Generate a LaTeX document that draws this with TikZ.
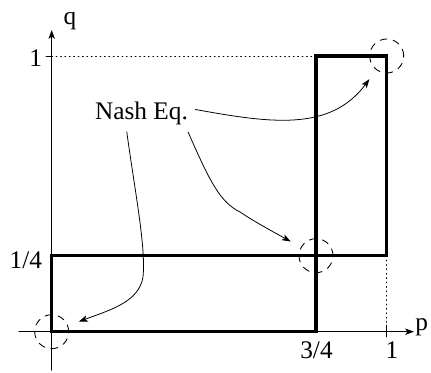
\documentclass[tikz,border=0pt]{standalone}
\usepackage{fontspec}
\setmainfont{Liberation Serif}
\usetikzlibrary{arrows.meta}
\tikzset{
  nebox/.style={circle, draw, dash pattern=on 4pt off 3.5pt, line width=0.5pt,
    minimum size=0.68cm, inner sep=0pt, outer sep=0.24cm},
  nearrow/.style={line width=0.45pt, -{Stealth[length=5pt,width=3.6pt,inset=1.2pt]}},
  axis/.style={line width=0.6pt, -{Stealth[length=5pt,width=3.6pt,inset=1.2pt]}},
  lbl/.style={inner sep=0pt, anchor=base}
}
\begin{document}
\begin{tikzpicture}[x=0.02cm, y=0.02cm, line cap=round,
    font=\fontsize{14.4}{17}\selectfont]
  \useasboundingbox (0,0) rectangle (431,372);
  % axes
  \draw[axis] (19,40.3) -- (414,40.3);
  \draw[axis] (51.7,2) -- (51.7,342);
  \draw[line width=0.5pt] (46,316) -- (51.7,316);
  \draw[line width=0.5pt] (386.7,35) -- (386.7,47);
  \draw[line width=0.5pt, dotted] (51.7,316) -- (316,316);
  \draw[line width=0.5pt, dotted] (386.7,116.3) -- (386.7,40.3);
  % best responses
  \draw[line width=1.9pt, line cap=butt] (51.7,40.3) rectangle (316,116.3);
  \draw[line width=1.9pt, line cap=butt] (316,116.3) rectangle (386.7,316);
  % labels
  \node[lbl] (lq) at (70,347) {q};
  \node[lbl] (lp) at (421.7,41.3) {p};
  \node[lbl] (lqone) at (35.7,305.3) {1};
  \node[lbl] (lquarter) at (25.8,103.7) {1/4};
  \node[lbl] (lthreeq) at (316.5,13.7) {3/4};
  \node[lbl] (lpone) at (392,13.7) {1};
  % equilibria
  \node[nebox] (ne1) at (51.7,40.3) {};
  \node[nebox] (ne2) at (316,116.3) {};
  \node[nebox] (ne3) at (386.7,316) {};
  \node[inner sep=0.14cm, anchor=base] (nash) at (141.5,252.7) {Nash Eq.};
  \draw[nearrow] (nash.-128) .. controls (135,180) and (146,125) .. (143,95)
    .. controls (139,70) and (110,62) .. (ne1);
  \draw[nearrow] (nash.-22) .. controls (210,190) and (220,170) .. (240,160)
    .. controls (255,150) and (270,142) .. (ne2);
  \draw[nearrow] (nash.4) .. controls (270,249) and (330,240) .. (ne3);
\end{tikzpicture}
\end{document}
